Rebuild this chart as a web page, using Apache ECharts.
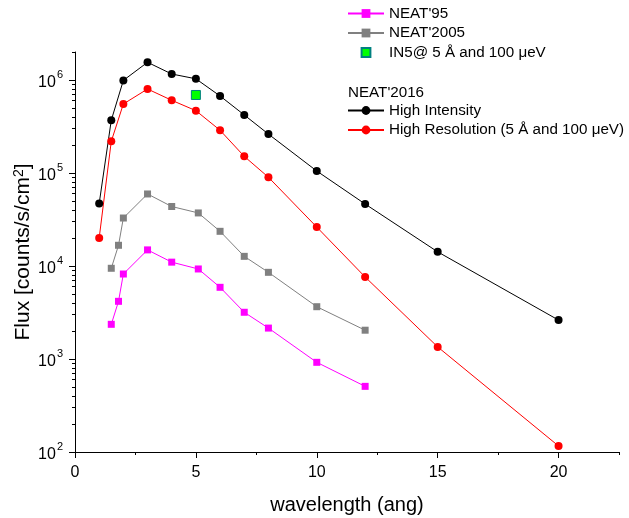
<!DOCTYPE html>
<html>
<head>
<meta charset="utf-8">
<script src="https://cdn.jsdelivr.net/npm/echarts@6/dist/echarts.min.js"></script>
<style>html,body{margin:0;padding:0;background:#fff}#c{width:629px;height:518px}</style>
</head>
<body>
<div id="c"></div>
<script>
// ---- data ----
const hiIntX = [1, 1.5, 2, 3, 4, 5, 6, 7, 8, 10, 12, 15, 20];
const hiIntY = [47000, 369000, 990000, 1550000, 1160000, 1030000, 673000, 421000, 262000, 105000, 46400, 14200, 2620];
const hiResX = [1, 1.5, 2, 3, 4, 5, 6, 7, 8, 10, 12, 15, 20];
const hiResY = [20000, 219000, 552000, 800000, 605000, 468000, 288000, 151000, 90000, 26200, 7620, 1350, 116];
const neat2005X = [1.5, 1.8, 2, 3, 4, 5.1, 6, 7, 8, 10, 12];
const neat2005Y = [9450, 16700, 32800, 59500, 43600, 37200, 23600, 12700, 8550, 3650, 2040];
const neat95X = [1.5, 1.8, 2, 3, 4, 5.1, 6, 7, 8, 10, 12];
const neat95Y = [2360, 4170, 8200, 14900, 11000, 9290, 5900, 3180, 2150, 921, 508];
const in5X = [5];
const in5Y = [690000];
const xMajorTicks = [0, 5, 10, 15, 20];
const xMinorTicks = [2.5, 7.5, 12.5, 17.5, 22.5];
const yMajorTicks = [100, 1000, 10000, 100000, 1000000];
const yMinorTicks = [200, 300, 400, 500, 600, 700, 800, 900,
  2000, 3000, 4000, 5000, 6000, 7000, 8000, 9000,
  20000, 30000, 40000, 50000, 60000, 70000, 80000, 90000,
  200000, 300000, 400000, 500000, 600000, 700000, 800000, 900000,
  2000000];

const pairs = (xs, ys) => xs.map((x, i) => [x, ys[i]]);
const FONT = 'Liberation Sans, Arial, sans-serif';

const chart = echarts.init(document.getElementById('c'), null, { renderer: 'canvas' });
const axisLine = { show: true, onZero: false, lineStyle: { color: '#000', width: 1 } };
const option = {
  animation: false,
  backgroundColor: '#fff',
  textStyle: { fontFamily: FONT },
  grid: { left: 75, right: 10, top: 52, bottom: 66, containLabel: false, outerBoundsMode: 'none' },
  xAxis: [
    {
      type: 'value', min: 0, max: 22.5, position: 'bottom',
      axisLine: axisLine,
      splitLine: { show: false },
      axisTick: { show: true, inside: false, length: 6, customValues: xMajorTicks, lineStyle: { color: '#000' } },
      axisLabel: { customValues: xMajorTicks, margin: 13, color: '#000', fontSize: 16, fontFamily: FONT },
      name: 'wavelength (ang)', nameLocation: 'middle', nameGap: 43, nameMoveOverlap: false,
      nameTextStyle: { fontSize: 20, color: '#000', fontFamily: FONT }
    },
    {
      type: 'value', min: 0, max: 22.5, position: 'bottom',
      axisLine: { show: false },
      splitLine: { show: false },
      axisTick: { show: true, inside: false, length: 3, customValues: xMinorTicks, lineStyle: { color: '#000' } },
      axisLabel: { show: false }
    }
  ],
  yAxis: [
    {
      type: 'log', logBase: 10, min: 100, max: 2000000, position: 'left',
      axisLine: axisLine,
      splitLine: { show: false },
      axisTick: { show: true, inside: false, length: 6, customValues: yMajorTicks, lineStyle: { color: '#000' } },
      axisLabel: {
        customValues: yMajorTicks, margin: 12, color: '#000',
        formatter: function (v) { return '{b|10}{s|' + Math.round(Math.log10(v)) + '}'; },
        rich: {
          b: { fontSize: 16, fontFamily: FONT, color: '#000', verticalAlign: 'bottom', lineHeight: 18, padding: [4, 0, 0, 0] },
          s: { fontSize: 11, fontFamily: FONT, color: '#000', verticalAlign: 'top', lineHeight: 22, padding: [0, 0, 8, 1] }
        }
      },
      name: 'Flux [counts/s/cm{s|2}]', nameLocation: 'middle', nameGap: 40, nameMoveOverlap: false,
      nameTextStyle: {
        fontSize: 21, color: '#000', fontFamily: FONT,
        rich: { s: { fontSize: 14, fontFamily: FONT, color: '#000', padding: [0, 0, 9, 0] } }
      }
    },
    {
      type: 'log', logBase: 10, min: 100, max: 2000000, position: 'left',
      axisLine: { show: false },
      splitLine: { show: false },
      axisTick: { show: true, inside: false, length: 3, customValues: yMinorTicks, lineStyle: { color: '#000' } },
      axisLabel: { show: false }
    }
  ],
  legend: [
    {
      data: ["NEAT'95", "NEAT'2005", 'IN5@ 5 Å and 100 μeV'],
      orient: 'vertical', left: 347, top: 6, padding: 0, itemWidth: 36, itemHeight: 11, itemGap: 4.5,
      textStyle: { fontSize: 15.2, color: '#000', fontFamily: FONT }
    },
    {
      data: ['High Intensity', 'High Resolution (5 Å and 100 μeV)'],
      orient: 'vertical', left: 347, top: 103, padding: 0, itemWidth: 36, itemHeight: 11, itemGap: 4.5,
      textStyle: { fontSize: 15.2, color: '#000', fontFamily: FONT }
    }
  ],
  graphic: [
    { type: 'text', left: 348, top: 85, style: { text: "NEAT'2016", fontSize: 15.2, fill: '#000', fontFamily: FONT } }
  ],
  series: [
    {
      name: "NEAT'95", type: 'line', data: pairs(neat95X, neat95Y),
      symbol: 'rect', symbolSize: 7, color: '#ff00ff',
      lineStyle: { color: '#ff00ff', width: 1 }, itemStyle: { color: '#ff00ff' }
    },
    {
      name: "NEAT'2005", type: 'line', data: pairs(neat2005X, neat2005Y),
      symbol: 'rect', symbolSize: 7, color: '#808080',
      lineStyle: { color: '#808080', width: 1 }, itemStyle: { color: '#808080' }
    },
    {
      name: 'High Resolution (5 Å and 100 μeV)', type: 'line', data: pairs(hiResX, hiResY),
      symbol: 'circle', symbolSize: 8, color: '#ff0000',
      lineStyle: { color: '#ff0000', width: 1 }, itemStyle: { color: '#ff0000' }
    },
    {
      name: 'High Intensity', type: 'line', data: pairs(hiIntX, hiIntY),
      symbol: 'circle', symbolSize: 8, color: '#000',
      lineStyle: { color: '#000', width: 1 }, itemStyle: { color: '#000' }
    },
    {
      name: 'IN5@ 5 Å and 100 μeV', type: 'line', data: pairs(in5X, in5Y),
      symbol: 'rect', symbolSize: 9, color: '#00ff00',
      lineStyle: { opacity: 0, width: 0 },
      itemStyle: { color: '#00ff00', borderColor: '#008080', borderWidth: 1 }
    }
  ]
};
chart.setOption(option);
</script>
</body>
</html>
